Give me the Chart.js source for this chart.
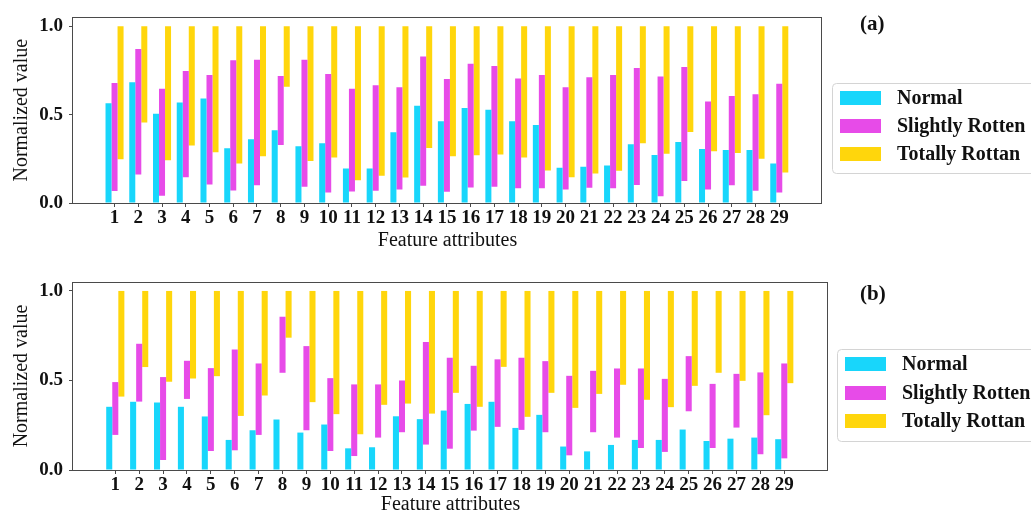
<!DOCTYPE html>
<html>
<head>
<meta charset="utf-8">
<script src="https://cdn.jsdelivr.net/npm/chart.js@4.4.1/dist/chart.umd.min.js"></script>
<style>
  html, body { margin: 0; padding: 0; background: #fff; overflow: hidden; }
  canvas { position: absolute; left: 0; }
  #chartA { top: 0; }
  #chartB { top: 257px; }
</style>
</head>
<body>
<canvas id="chartA" width="1031" height="257"></canvas>
<canvas id="chartB" width="1031" height="264"></canvas>
<script>
// feature index on the x axis
const features = [1,2,3,4,5,6,7,8,9,10,11,12,13,14,15,16,17,18,19,20,21,22,23,24,25,26,27,28,29];
const seriesNames = ['Normal', 'Slightly Rotten', 'Totally Rottan'];
const yTicks = [0, 0.5, 1.0];
const TOP = 1.0; // every "Totally Rottan" bar reaches the top of the normalized range

// panel (a)
const normalA     = [0.565,0.683,0.505,0.568,0.591,0.310,0.360,0.411,0.321,0.338,0.195,0.195,0.400,0.550,0.463,0.538,0.527,0.463,0.441,0.199,0.205,0.212,0.332,0.272,0.345,0.306,0.300,0.300,0.223];
const slightLowA  = [0.068,0.161,0.041,0.146,0.105,0.071,0.101,0.328,0.092,0.060,0.065,0.069,0.077,0.098,0.064,0.088,0.092,0.083,0.083,0.077,0.086,0.083,0.102,0.038,0.124,0.077,0.101,0.069,0.060];
const slightHighA = [0.679,0.871,0.647,0.747,0.724,0.807,0.811,0.719,0.811,0.730,0.647,0.666,0.655,0.829,0.702,0.788,0.775,0.705,0.724,0.655,0.711,0.724,0.764,0.715,0.769,0.574,0.606,0.615,0.674];
const totalLowA   = [0.248,0.456,0.242,0.325,0.287,0.223,0.265,0.657,0.238,0.257,0.129,0.154,0.144,0.311,0.265,0.270,0.274,0.257,0.184,0.146,0.167,0.182,0.338,0.278,0.401,0.293,0.283,0.251,0.173];

// panel (b)
const normalB     = [0.353,0.381,0.377,0.353,0.299,0.168,0.222,0.282,0.209,0.254,0.121,0.127,0.300,0.284,0.332,0.369,0.381,0.235,0.308,0.131,0.104,0.140,0.168,0.168,0.226,0.162,0.175,0.181,0.172];
const slightLowB  = [0.196,0.382,0.056,0.397,0.106,0.110,0.196,0.543,0.222,0.106,0.078,0.181,0.211,0.142,0.119,0.220,0.241,0.224,0.211,0.082,0.211,0.181,0.123,0.101,0.328,0.123,0.237,0.088,0.065];
const slightHighB = [0.491,0.705,0.519,0.610,0.569,0.673,0.595,0.856,0.692,0.513,0.478,0.478,0.500,0.715,0.627,0.582,0.618,0.627,0.608,0.526,0.554,0.567,0.567,0.509,0.636,0.481,0.537,0.545,0.595];
const totalLowB   = [0.410,0.575,0.493,0.511,0.524,0.302,0.416,0.739,0.379,0.312,0.200,0.364,0.371,0.315,0.431,0.353,0.576,0.297,0.431,0.347,0.425,0.476,0.392,0.351,0.470,0.543,0.498,0.306,0.485];

const colors = ['#18d6fb', '#e74be8', '#ffd60c'];
const SERIF = "'Liberation Serif', 'Times New Roman', serif";
Chart.defaults.font.family = SERIF;
Chart.defaults.color = '#111';

// frame around the plot + boxed legend + panel tag
const framePlugin = {
  id: 'framePlugin',
  afterDraw(chart, args, o) {
    const { ctx, chartArea: a } = chart;
    ctx.save();
    ctx.strokeStyle = '#4a4a4a';
    ctx.lineWidth = 1;
    ctx.strokeRect(Math.round(a.left) - 0.5, Math.round(a.top) + 0.5,
                   Math.round(a.right - a.left), Math.round(a.bottom - a.top));

    // legend box
    ctx.strokeStyle = '#d4d4d4';
    ctx.beginPath();
    ctx.roundRect(o.boxX + 0.5, o.boxY + 0.5, 260, o.boxH, 4);
    ctx.stroke();
    ctx.font = 'bold 20px ' + SERIF;
    ctx.textBaseline = 'middle';
    ctx.textAlign = 'left';
    chart.data.datasets.forEach((ds, i) => {
      const y = o.rows[i];
      ctx.fillStyle = ds.backgroundColor;
      ctx.fillRect(o.swX, y - 7, 41, 14);
      ctx.fillStyle = '#111';
      ctx.fillText(ds.label, o.textX, y + 1);
    });

    ctx.font = 'bold 21px ' + SERIF;
    ctx.fillText(o.tag, 860, o.tagY);
    ctx.restore();
  }
};

function buildChart(id, normal, sLow, sHigh, tLow, lay) {
  const datasets = [
    { label: seriesNames[0], data: features.map((f, i) => ({ x: f, y: normal[i] })) },
    { label: seriesNames[1], data: features.map((f, i) => ({ x: f, y: [sLow[i], sHigh[i]] })) },
    { label: seriesNames[2], data: features.map((f, i) => ({ x: f, y: [tLow[i], TOP] })) }
  ];
  datasets.forEach((ds, i) => {
    ds.backgroundColor = colors[i];
    ds.borderWidth = 0;
    ds.categoryPercentage = 0.76;
    ds.barPercentage = 1.0;
  });

  return new Chart(document.getElementById(id), {
    type: 'bar',
    data: { datasets },
    plugins: [framePlugin],
    options: {
      responsive: false,
      animation: false,
      devicePixelRatio: 1,
      layout: { padding: { top: lay.padTop, right: lay.padRight, left: 0, bottom: 0 } },
      plugins: {
        legend: { display: false },
        tooltip: { enabled: false },
        framePlugin: lay.legend
      },
      scales: {
        x: {
          type: 'linear',
          offset: false,
          min: lay.xMin,
          max: lay.xMax,
          afterFit: s => { s.height = lay.xAxisH; },
          afterBuildTicks: s => { s.ticks = features.map(v => ({ value: v })); },
          grid: { offset: false, drawOnChartArea: false, drawTicks: true, tickLength: 4, color: '#4a4a4a' },
          border: { display: false },
          ticks: {
            autoSkip: false, maxRotation: 0, padding: 0,
            font: { size: 19, weight: 'bold' }, color: '#111',
            callback: v => String(v)
          },
          title: {
            display: true, text: 'Feature attributes',
            font: { size: 20 }, color: '#111',
            padding: { top: 0, bottom: 4 }
          }
        },
        y: {
          min: 0,
          max: 1.05,
          afterFit: s => { s.width = 73; },
          afterBuildTicks: s => { s.ticks = yTicks.map(v => ({ value: v })); },
          grid: { drawOnChartArea: false, drawTicks: true, tickLength: 4, color: '#4a4a4a' },
          border: { display: false },
          ticks: {
            padding: 6,
            font: { size: 19, weight: 'bold' }, color: '#111',
            callback: v => Number(v).toFixed(1)
          },
          title: {
            display: true, text: 'Normalized value',
            font: { size: 20 }, color: '#111',
            padding: { top: 10, bottom: 0 }
          }
        }
      }
    }
  });
}

buildChart('chartA', normalA, slightLowA, slightHighA, totalLowA, {
  padTop: 16, padRight: 209, xAxisH: 54, xMin: -0.75, xMax: 30.8,
  legend: { boxX: 832, boxY: 83, boxH: 90, swX: 840, textX: 897, rows: [98, 126, 154], tag: '(a)', tagY: 25 }
});

buildChart('chartB', normalB, slightLowB, slightHighB, totalLowB, {
  padTop: 25, padRight: 203, xAxisH: 51, xMin: -0.77, xMax: 30.83,
  legend: { boxX: 837, boxY: 92, boxH: 92, swX: 845, textX: 902, rows: [107, 136, 164], tag: '(b)', tagY: 38 }
});
</script>
</body>
</html>
